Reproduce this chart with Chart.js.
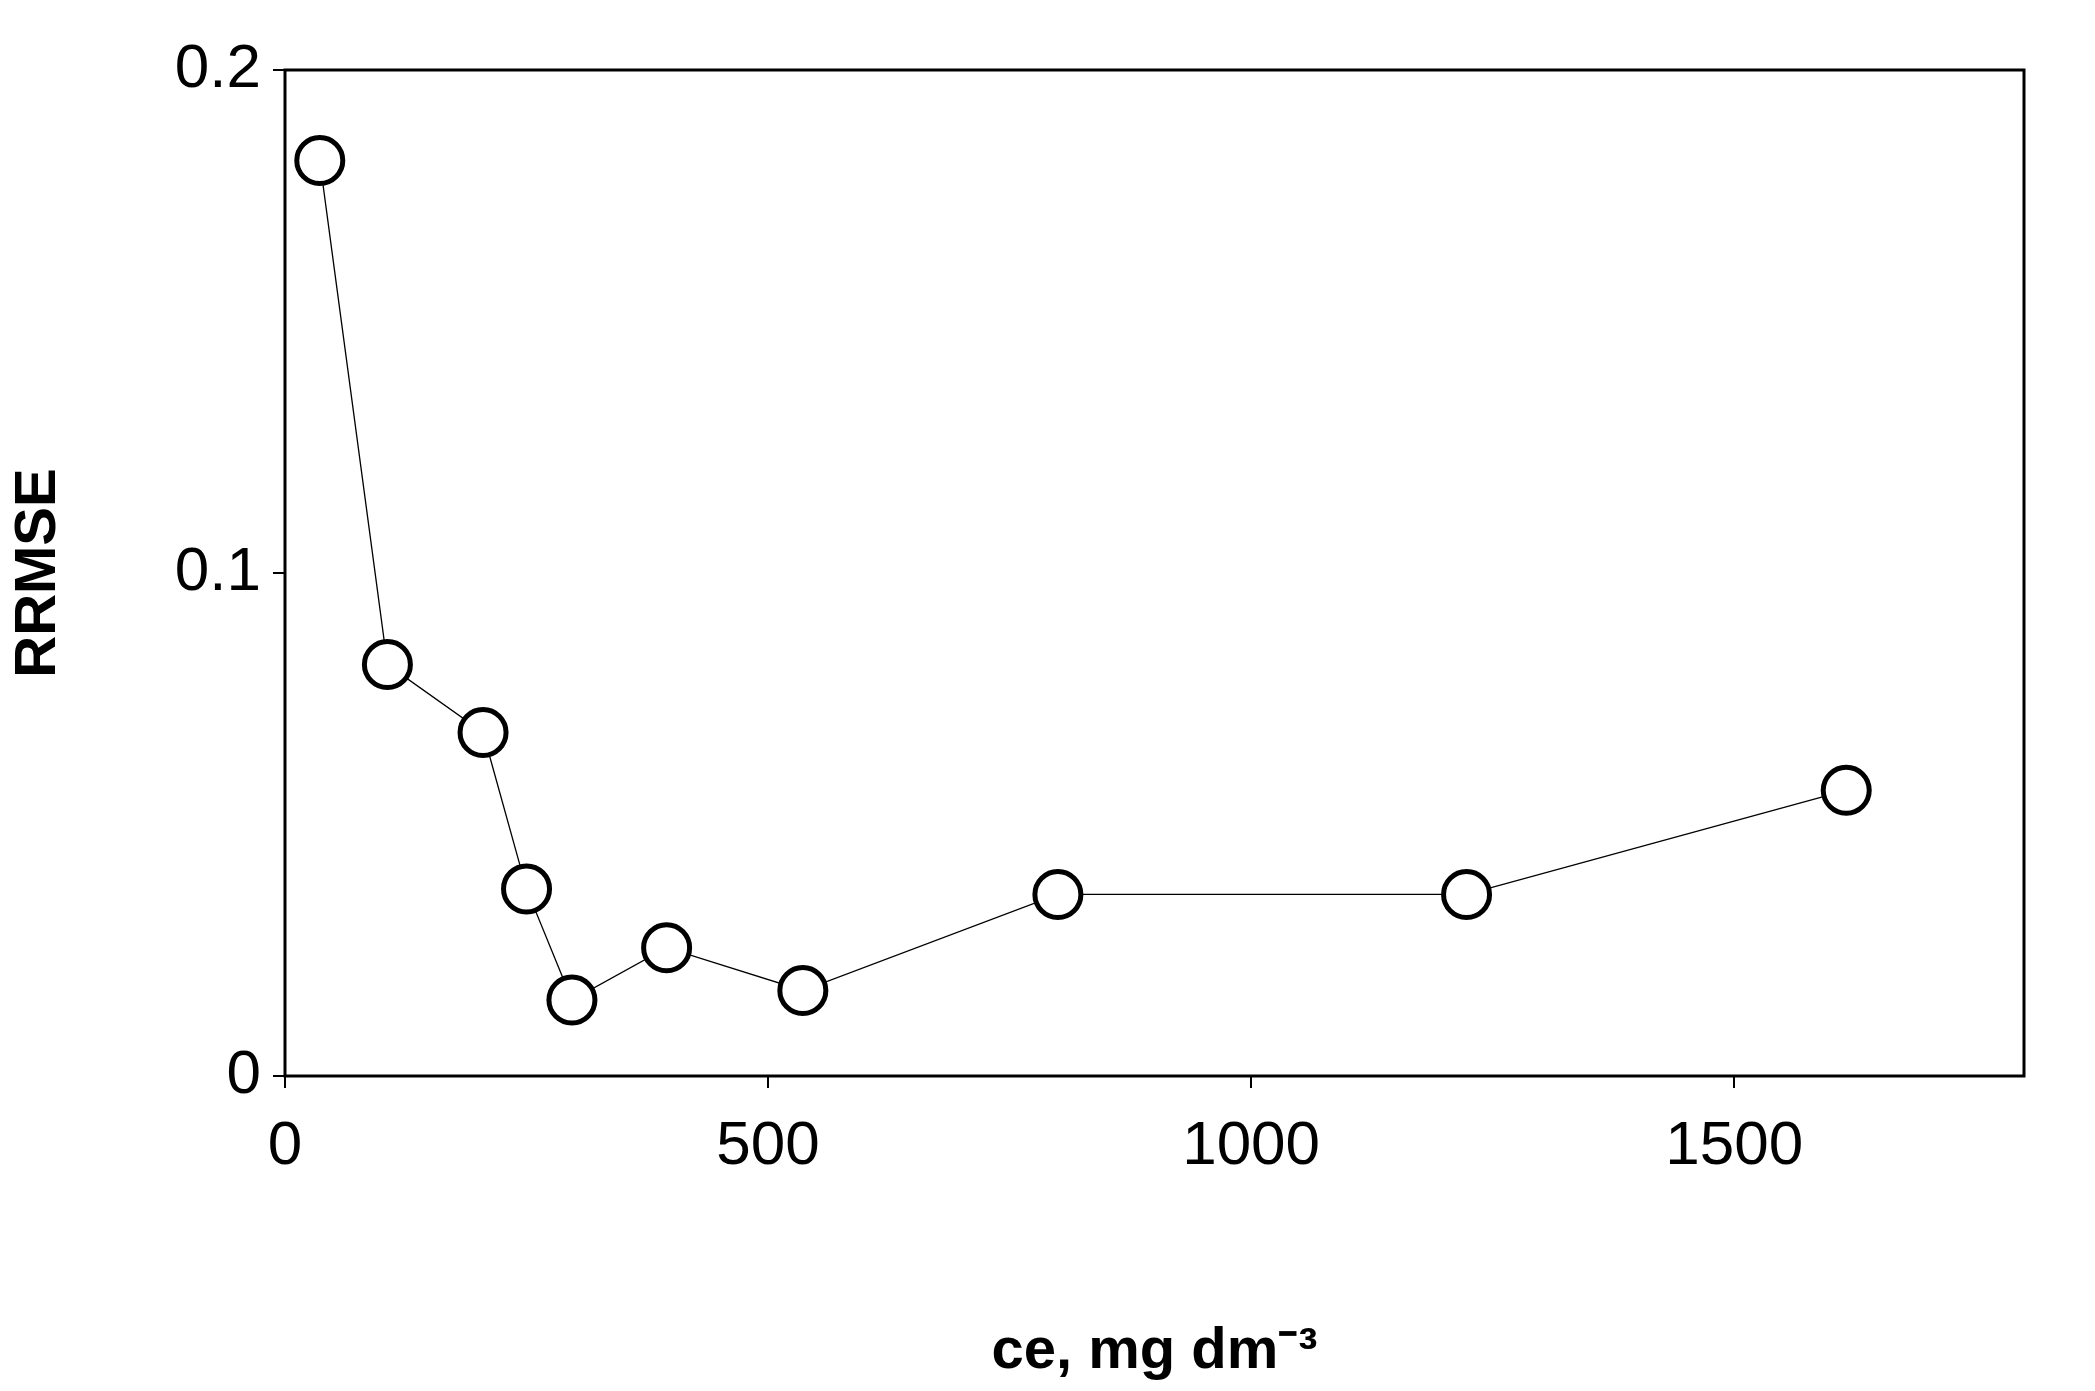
<!DOCTYPE html>
<html><head><meta charset="utf-8">
<script src="https://cdn.jsdelivr.net/npm/chart.js@4"></script>
<style>html,body{margin:0;padding:0;background:#fff}#c{display:block}</style>
</head><body>
<canvas id="c" width="2095" height="1391" style="width:2095px;height:1391px"></canvas>
<script>
const xValues = [36, 106, 205, 250, 297, 395, 536, 800, 1223, 1616];
const yValues = [0.182, 0.0818, 0.0683, 0.0372, 0.0151, 0.0255, 0.017, 0.0361, 0.0361, 0.0568];
const xTicks = [0, 500, 1000, 1500];
const yTicks = [0, 0.1, 0.2];

const boxPlugin = {
  id: 'box',
  afterDraw(chart) {
    const a = chart.chartArea, ctx = chart.ctx;
    ctx.save(); ctx.strokeStyle = '#000'; ctx.lineWidth = 3;
    ctx.strokeRect(a.left, a.top, a.right - a.left, a.bottom - a.top);
    ctx.restore();
  }
};
const font = { family: 'Liberation Sans, Arial, sans-serif', size: 62 };
new Chart(document.getElementById('c'), {
  type: 'scatter',
  data: { datasets: [{
    data: xValues.map((x, i) => ({ x, y: yValues[i] })),
    showLine: true, borderColor: '#000', borderWidth: 1.3,
    pointRadius: 23, pointBorderWidth: 5, pointBackgroundColor: '#fff', pointBorderColor: '#000'
  }]},
  options: {
    responsive: false, animation: false,
    layout: { padding: { top: 70, right: 71, left: 0, bottom: 0 } },
    plugins: { legend: { display: false }, tooltip: { enabled: false } },
    scales: {
      x: {
        type: 'linear', min: 0, max: 1800,
        afterBuildTicks: s => { s.ticks = xTicks.map(v => ({ value: v })); },
        afterFit: s => { s.height = 315; },
        grid: { drawOnChartArea: false, tickLength: 12, color: '#000', lineWidth: 2 },
        border: { display: false },
        ticks: { color: '#000', font, padding: 22, maxRotation: 0, callback: v => String(v) },
        title: { display: true, text: 'ce, mg dm⁻³', color: '#000', font: { ...font, size: 58, weight: 'bold' }, padding: { top: 40 } }
      },
      y: {
        type: 'linear', min: 0, max: 0.2,
        afterBuildTicks: s => { s.ticks = yTicks.map(v => ({ value: v })); },
        afterFit: s => { s.width = 285; },
        grid: { drawOnChartArea: false, tickLength: 12, color: '#000', lineWidth: 2 },
        border: { display: false },
        ticks: { color: '#000', font, padding: 12, callback: v => String(v) },
        title: { display: true, text: 'RRMSE', color: '#000', font: { ...font, size: 58, weight: 'bold' }, padding: { bottom: 70 } }
      }
    }
  },
  plugins: [boxPlugin]
});
</script>
</body></html>
